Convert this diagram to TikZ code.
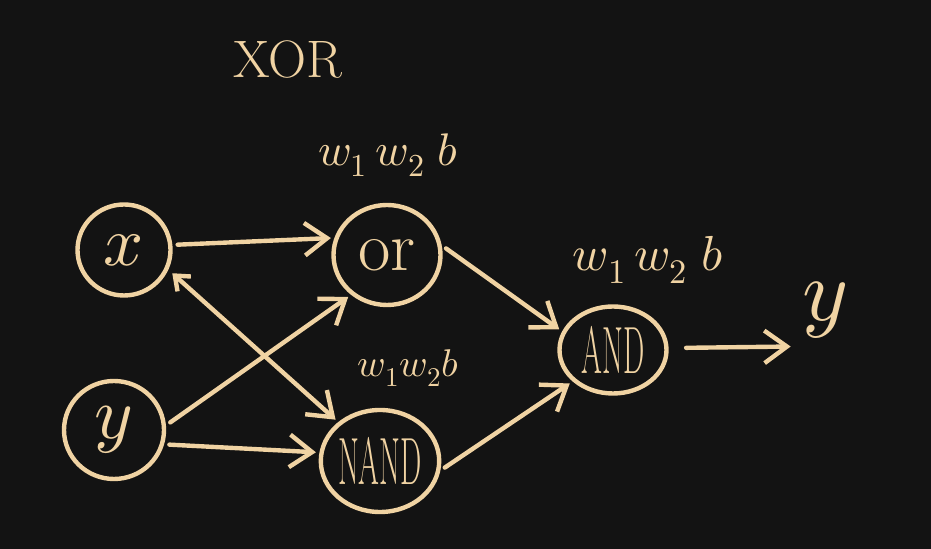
\documentclass[tikz,border=0pt]{standalone}
\usepackage{unicode-math}
\usetikzlibrary{arrows.meta, shapes.geometric}
\definecolor{chalk}{RGB}{240,211,163}
\definecolor{board}{RGB}{19,19,19}
\newcommand{\thin}[1]{\scalebox{0.45}[1]{#1}}

\begin{document}
\begin{tikzpicture}[>={Straight Barb[length=4.5mm, width=6.5mm]}, line width=2.5pt,
    gate/.style={draw=chalk, ellipse, inner sep=0pt, text=chalk},
    wire/.style={->, draw=chalk, line cap=round, shorten <=3pt, shorten >=2pt}]
    \fill [board] (0,0) rectangle (18.62,10.98);
    \useasboundingbox (0,0) rectangle (18.62,10.98);

    \node (title) at (5.76,9.78) [text=chalk, font=\fontsize{30}{30}\selectfont] {XOR};

    \node (xin) at (2.48,5.98) [gate, minimum width=1.86cm, minimum height=1.82cm, font=\fontsize{40}{40}\selectfont] {$x$};
    \node (yin) at (2.28,2.38) [gate, minimum width=2.0cm, minimum height=1.96cm, font=\fontsize{42}{42}\selectfont] {$y$};

    \node (orgate) at (7.74,5.88) [gate, minimum width=2.14cm, minimum height=2.0cm, font=\fontsize{40}{40}\selectfont] {or};
    \node (nand) at (7.6,1.76) [gate, minimum width=2.3cm, minimum height=2.04cm, font=\fontsize{38}{38}\selectfont] {\thin{NAND}};
    \node (andgate) at (12.26,3.98) [gate, minimum width=2.14cm, minimum height=1.74cm, font=\fontsize{38}{38}\selectfont] {\thin{AND}};

    \node (yout) at (16.5,4.78) [text=chalk, font=\fontsize{50}{50}\selectfont] {$y$};

    \node (wor) at (7.76,7.88) [text=chalk, font=\fontsize{26}{26}\selectfont] {$w_1\,w_2\;b$};
    \node (wnand) at (8.16,3.62) [text=chalk, font=\fontsize{22}{22}\selectfont] {$w_1w_2b$};
    \node (wand) at (12.96,5.78) [text=chalk, font=\fontsize{28}{28}\selectfont] {$w_1\,w_2\;b$};

    \draw [wire] (xin.6) -- (orgate.162);
    \draw [wire] (yin.5) -- (orgate.228);
    \draw [wire, {Straight Barb[length=2.5mm, width=4mm]}->] (xin.-24) -- (nand.137);
    \draw [wire] (yin.-16) -- (nand.172);
    \draw [wire] (orgate.10) -- (andgate.160);
    \draw [wire] (nand.-9) -- (andgate.218);
    \draw [wire, shorten <=0.35cm] (andgate.2) -- (yout.south west);
\end{tikzpicture}
\end{document}
